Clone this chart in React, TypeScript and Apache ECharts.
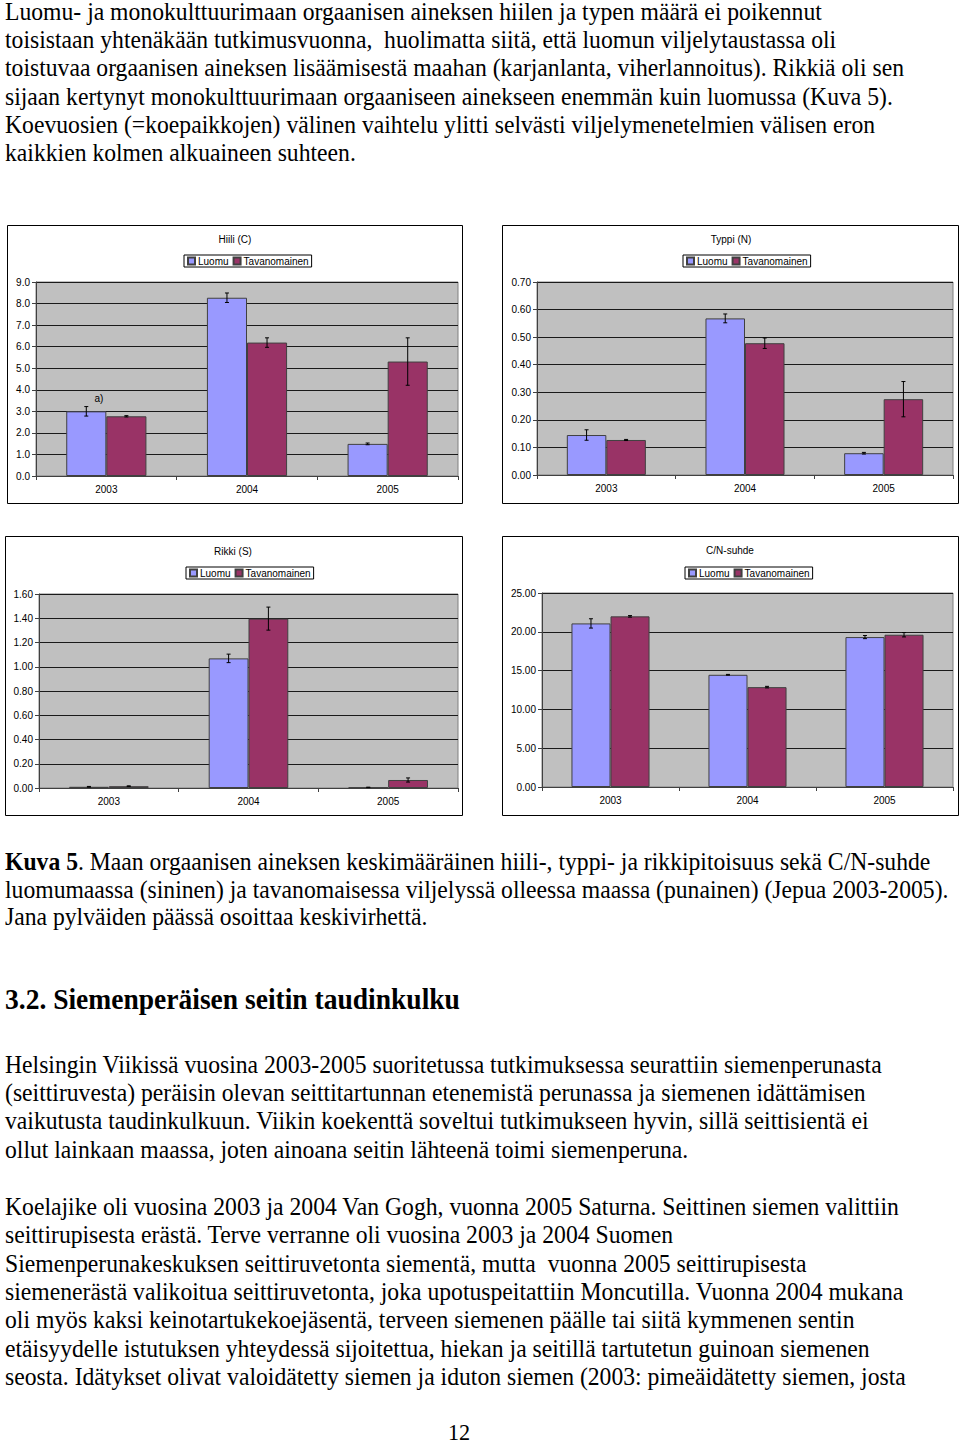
import React, { useEffect, useRef } from "react";
import * as echarts from "echarts";

const years = ["2003", "2004", "2005"];
const seriesNames = ["Luomu", "Tavanomainen"];

const hiiliLuomu = [3.0, 8.27, 1.49];
const hiiliLuomuErr = [0.22, 0.22, 0.04];
const hiiliTav = [2.77, 6.19, 5.31];
const hiiliTavErr = [0.03, 0.22, 1.1];

const typpiLuomu = [0.145, 0.568, 0.079];
const typpiLuomuErr = [0.019, 0.016, 0.003];
const typpiTav = [0.127, 0.478, 0.275];
const typpiTavErr = [0.002, 0.019, 0.064];

const rikkiLuomu = [0.01, 1.069, 0.005];
const rikkiLuomuErr = [0.003, 0.035, 0.002];
const rikkiTav = [0.015, 1.397, 0.066];
const rikkiTavErr = [0.003, 0.095, 0.017];

const cnLuomu = [21.08, 14.46, 19.32];
const cnLuomuErr = [0.6, 0.05, 0.2];
const cnTav = [21.99, 12.87, 19.62];
const cnTavErr = [0.1, 0.1, 0.28];

const chartTitles = ["Hiili (C)", "Typpi (N)", "Rikki (S)", "C/N-suhde"];
const yMax = [9, 0.7, 1.6, 25];
const yInterval = [1, 0.1, 0.2, 5];
const yDecimals = [1, 2, 2, 2];

const para1 = [
  "Luomu- ja monokulttuurimaan orgaanisen aineksen hiilen ja typen määrä ei poikennut",
  "toisistaan yhtenäkään tutkimusvuonna,  huolimatta siitä, että luomun viljelytaustassa oli",
  "toistuvaa orgaanisen aineksen lisäämisestä maahan (karjanlanta, viherlannoitus). Rikkiä oli sen",
  "sijaan kertynyt monokulttuurimaan orgaaniseen ainekseen enemmän kuin luomussa (Kuva 5).",
  "Koevuosien (=koepaikkojen) välinen vaihtelu ylitti selvästi viljelymenetelmien välisen eron",
  "kaikkien kolmen alkuaineen suhteen.",
];
const caption = [
  "{b|Kuva 5}. Maan orgaanisen aineksen keskimääräinen hiili-, typpi- ja rikkipitoisuus sekä C/N-suhde",
  "luomumaassa (sininen) ja tavanomaisessa viljelyssä olleessa maassa (punainen) (Jepua 2003-2005).",
  "Jana pylväiden päässä osoittaa keskivirhettä.",
];
const heading = "3.2. Siemenperäisen seitin taudinkulku";
const para2 = [
  "Helsingin Viikissä vuosina 2003-2005 suoritetussa tutkimuksessa seurattiin siemenperunasta",
  "(seittiruvesta) peräisin olevan seittitartunnan etenemistä perunassa ja siemenen idättämisen",
  "vaikutusta taudinkulkuun. Viikin koekenttä soveltui tutkimukseen hyvin, sillä seittisientä ei",
  "ollut lainkaan maassa, joten ainoana seitin lähteenä toimi siemenperuna.",
];
const para3 = [
  "Koelajike oli vuosina 2003 ja 2004 Van Gogh, vuonna 2005 Saturna. Seittinen siemen valittiin",
  "seittirupisesta erästä. Terve verranne oli vuosina 2003 ja 2004 Suomen",
  "Siemenperunakeskuksen seittiruvetonta siementä, mutta  vuonna 2005 seittirupisesta",
  "siemenerästä valikoitua seittiruvetonta, joka upotuspeitattiin Moncutilla. Vuonna 2004 mukana",
  "oli myös kaksi keinotartukekoejäsentä, terveen siemenen päälle tai siitä kymmenen sentin",
  "etäisyydelle istutuksen yhteydessä sijoitettua, hiekan ja seitillä tartutetun guinoan siemenen",
  "seosta. Idätykset olivat valoidätetty siemen ja iduton siemen (2003: pimeäidätetty siemen, josta",
];
const pageNumber = "12";

const SERIF = "Liberation Serif";
const SANS = "Liberation Sans";
const BLUE = "#9999FF";
const RED = "#993366";
const CAT_GAP = 0.43;
const BODY_SIZE = 24.5;
const HEAD_SIZE = 29;

export default function App() {
  const ref = useRef<HTMLDivElement>(null);

  useEffect(() => {
    if (!ref.current) return;
    const chart = echarts.init(ref.current, null, { renderer: "svg" });

    const ctx = document.createElement("canvas").getContext("2d")!;
    ctx.font = BODY_SIZE + "px Liberation Serif";
    const w1 = ctx.measureText(para1[0]).width;
    const bodyScale = 817 / w1;
    ctx.font = "bold " + HEAD_SIZE + "px Liberation Serif";
    const hw = ctx.measureText(heading).width;
    const headScale = 455 / hw;

    const grids = [
      { left: 36, top: 282, width: 422, height: 194 },
      { left: 537, top: 282, width: 416, height: 193 },
      { left: 39, top: 594, width: 419, height: 194 },
      { left: 542, top: 593, width: 411, height: 194 },
    ];
    const frames = [
      [7.5, 225.5, 455, 278],
      [502.5, 225.5, 456, 278],
      [5.5, 536.5, 457, 279],
      [502.5, 536.5, 456, 279],
    ];
    const titlePos = [
      [235, 239],
      [731, 239],
      [233, 551],
      [730, 550],
    ];
    const legendPos = [
      [184, 255],
      [683, 255],
      [186, 567],
      [685, 567],
    ];

    const dataSets = [
      [hiiliLuomu, hiiliLuomuErr, hiiliTav, hiiliTavErr],
      [typpiLuomu, typpiLuomuErr, typpiTav, typpiTavErr],
      [rikkiLuomu, rikkiLuomuErr, rikkiTav, rikkiTavErr],
      [cnLuomu, cnLuomuErr, cnTav, cnTavErr],
    ];

    const errRender = (side: number) => (params: any, api: any) => {
      const cat = api.value(0);
      const v = api.value(1);
      const e = api.value(2);
      const band = api.size([1, 0])[0];
      const bw = (band * (1 - CAT_GAP)) / 2;
      const x = api.coord([cat, v])[0] + (side * bw) / 2;
      const hi = api.coord([cat, v + e])[1];
      const lo = api.coord([cat, v - e])[1];
      const st = { stroke: "#000", lineWidth: 1 };
      return {
        type: "group",
        children: [
          { type: "line", shape: { x1: x, y1: hi, x2: x, y2: lo }, style: st },
          { type: "line", shape: { x1: x - 2, y1: hi, x2: x + 2, y2: hi }, style: st },
          { type: "line", shape: { x1: x - 2, y1: lo, x2: x + 2, y2: lo }, style: st },
        ],
      };
    };

    const series: any[] = [];
    dataSets.forEach((ds, i) => {
      const [lv, le, tv, te] = ds;
      series.push({
        type: "bar",
        name: seriesNames[0],
        xAxisIndex: i,
        yAxisIndex: i,
        data: lv,
        barGap: "0%",
        barCategoryGap: CAT_GAP * 100 + "%",
        itemStyle: { color: BLUE, borderColor: "#404040", borderWidth: 1 },
      });
      series.push({
        type: "bar",
        name: seriesNames[1],
        xAxisIndex: i,
        yAxisIndex: i,
        data: tv,
        barGap: "0%",
        barCategoryGap: CAT_GAP * 100 + "%",
        itemStyle: { color: RED, borderColor: "#404040", borderWidth: 1 },
      });
      series.push({
        type: "custom",
        name: "err-l-" + i,
        xAxisIndex: i,
        yAxisIndex: i,
        renderItem: errRender(-1),
        data: lv.map((v, k) => [k, v, le[k]]),
        encode: { x: 0, y: 1 },
        z: 5,
        silent: true,
      });
      series.push({
        type: "custom",
        name: "err-t-" + i,
        xAxisIndex: i,
        yAxisIndex: i,
        renderItem: errRender(1),
        data: tv.map((v, k) => [k, v, te[k]]),
        encode: { x: 0, y: 1 },
        z: 5,
        silent: true,
      });
    });

    const graphic: any[] = [];
    frames.forEach((f) =>
      graphic.push({
        type: "rect",
        shape: { x: f[0], y: f[1], width: f[2], height: f[3] },
        style: { fill: "none", stroke: "#000", lineWidth: 1 },
        z: 0,
      })
    );
    chartTitles.forEach((t, i) =>
      graphic.push({
        type: "text",
        x: titlePos[i][0],
        y: titlePos[i][1],
        style: { text: t, fontFamily: SANS, fontSize: 10, fill: "#000", align: "center", verticalAlign: "middle" },
      })
    );
    graphic.push({
      type: "text",
      x: 99,
      y: 398,
      style: { text: "a)", fontFamily: SANS, fontSize: 10, fill: "#000", align: "center", verticalAlign: "middle" },
    });

    const bodyLine = (text: string, y: number, rich?: any) => ({
      type: "text",
      x: 5,
      y,
      scaleX: bodyScale,
      style: {
        text,
        fontFamily: SERIF,
        fontSize: BODY_SIZE,
        fill: "#000",
        verticalAlign: "middle",
        rich,
      },
    });
    const p1y = [12, 40, 68, 97, 125, 153];
    para1.forEach((t, i) => graphic.push(bodyLine(t, p1y[i])));
    const cy = [862, 890, 917];
    caption.forEach((t, i) =>
      graphic.push(
        bodyLine(t, cy[i], {
          b: { fontFamily: SERIF, fontSize: BODY_SIZE, fontWeight: "bold", fill: "#000" },
        })
      )
    );
    graphic.push({
      type: "text",
      x: 5,
      y: 999,
      scaleX: headScale,
      style: { text: heading, fontFamily: SERIF, fontSize: HEAD_SIZE, fontWeight: "bold", fill: "#000", verticalAlign: "middle" },
    });
    const p2y = [1065, 1093, 1121, 1150];
    para2.forEach((t, i) => graphic.push(bodyLine(t, p2y[i])));
    const p3y = [1207, 1235, 1264, 1292, 1320, 1349, 1377];
    para3.forEach((t, i) => graphic.push(bodyLine(t, p3y[i])));
    graphic.push({
      type: "text",
      x: 459,
      y: 1432,
      scaleX: bodyScale,
      style: { text: pageNumber, fontFamily: SERIF, fontSize: 23, fill: "#000", align: "center", verticalAlign: "middle" },
    });

    const option: any = {
      animation: false,
      backgroundColor: "#fff",
      grid: grids.map((g) => ({
        ...g,
        show: true,
        backgroundColor: "#C0C0C0",
        borderColor: "#808080",
        borderWidth: 1,
        containLabel: false,
      })),
      legend: legendPos.map((p) => ({
        left: p[0],
        top: p[1],
        data: seriesNames,
        orient: "horizontal",
        itemWidth: 7,
        itemHeight: 7,
        itemGap: 4,
        icon: "rect",
        selectedMode: false,
        borderColor: "#000",
        borderWidth: 1,
        padding: [1, 3, 1, 3],
        textStyle: { fontFamily: SANS, fontSize: 10, color: "#000", padding: [0, 0, 0, -2] },
      })),
      xAxis: grids.map((_, i) => ({
        type: "category",
        gridIndex: i,
        data: years,
        axisLine: { show: true, lineStyle: { color: "#404040", width: 1 } },
        axisTick: { show: true, length: 4, lineStyle: { color: "#404040" } },
        axisLabel: { fontFamily: SANS, fontSize: 10, color: "#000", margin: 8 },
        splitLine: { show: false },
      })),
      yAxis: grids.map((_, i) => ({
        type: "value",
        gridIndex: i,
        min: 0,
        max: yMax[i],
        interval: yInterval[i],
        axisLine: { show: true, lineStyle: { color: "#404040", width: 1 } },
        axisTick: { show: true, length: 4, lineStyle: { color: "#404040" } },
        axisLabel: {
          fontFamily: SANS,
          fontSize: 10,
          color: "#000",
          margin: 6,
          formatter: (v: number) => v.toFixed(yDecimals[i]),
        },
        splitLine: { show: true, lineStyle: { color: "#1a1a1a", width: 1 } },
      })),
      series,
      graphic,
    };

    chart.setOption(option);
    return () => chart.dispose();
  }, []);

  return (
    <div
      ref={ref}
      style={{ position: "absolute", left: 0, top: 0, width: 960, height: 1446, background: "#fff" }}
    />
  );
}
